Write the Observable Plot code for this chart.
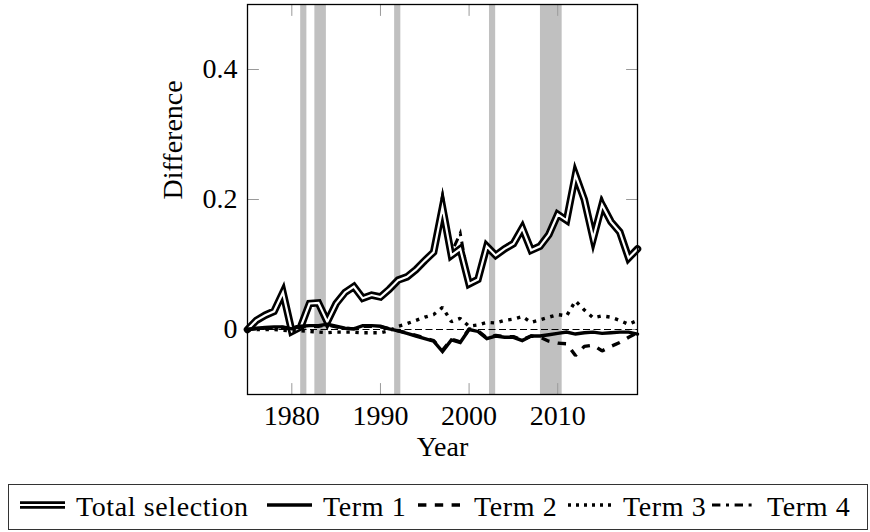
<!DOCTYPE html>
<html><head><meta charset="utf-8">
<script src="https://cdn.jsdelivr.net/npm/d3@7"></script>
<script src="https://cdn.jsdelivr.net/npm/@observablehq/plot@0.6"></script>
<style>
body{margin:0;background:#fff;width:870px;height:532px;position:relative;overflow:hidden;font-family:"Liberation Serif","Times New Roman",serif;}
#chart{position:absolute;left:0;top:0;}
#chart svg{font-family:"Liberation Serif","Times New Roman",serif !important;}
#chart svg text{font-family:"Liberation Serif","Times New Roman",serif !important;font-size:28px;}
#legend{position:absolute;left:8px;top:484px;width:860px;height:46px;box-sizing:border-box;border:1.2px solid #333;background:#fff;}
.sw{position:absolute;top:0;}
.lt{position:absolute;top:0;line-height:44px;font-size:28px;color:#000;white-space:nowrap;letter-spacing:0.6px;}
</style>
</head><body>
<div id="chart"></div>
<div id="legend"></div>
<script>
const years = [1975,1976,1977,1978,1979,1980,1981,1982,1983,1984,1985,1986,1987,1988,1989,1990,1991,1992,1993,1994,1995,1996,1997,1998,1999,2000,2001,2002,2003,2004,2005,2006,2007,2008,2009,2010,2011,2012,2013,2014,2015,2016,2017,2018,2019];
const totalSel = [0.000,0.014,0.022,0.028,0.057,-0.003,0.004,0.040,0.041,0.012,0.040,0.057,0.066,0.048,0.053,0.050,0.062,0.076,0.081,0.092,0.106,0.119,0.188,0.114,0.124,0.070,0.077,0.128,0.114,0.124,0.132,0.156,0.122,0.128,0.146,0.177,0.168,0.238,0.200,0.140,0.192,0.166,0.150,0.110,0.124];
const term1 = [0.000,0.002,0.003,0.004,0.004,0.001,0.005,0.006,0.006,0.008,0.005,0.002,0.001,0.006,0.006,0.005,0.001,-0.002,-0.006,-0.010,-0.014,-0.018,-0.034,-0.016,-0.020,0.000,-0.003,-0.014,-0.010,-0.012,-0.012,-0.017,-0.010,-0.010,-0.008,-0.006,-0.004,-0.007,-0.005,-0.004,-0.006,-0.005,-0.004,-0.004,-0.007];
const term2 = [0.000,0.001,0.002,0.003,0.003,0.000,0.004,0.005,0.005,0.007,0.004,0.002,0.001,0.005,0.005,0.004,0.001,-0.002,-0.005,-0.009,-0.013,-0.017,-0.032,-0.015,-0.019,0.001,-0.002,-0.013,-0.009,-0.011,-0.011,-0.016,-0.010,-0.012,-0.018,-0.021,-0.022,-0.040,-0.026,-0.024,-0.033,-0.026,-0.020,-0.012,-0.005];
const term3 = [0.000,0.000,0.000,0.000,-0.001,-0.002,-0.002,-0.003,-0.004,-0.005,-0.004,-0.004,-0.004,-0.005,-0.005,-0.005,-0.002,0.005,0.009,0.014,0.019,0.023,0.034,0.012,0.017,0.005,0.007,0.011,0.010,0.014,0.016,0.020,0.011,0.015,0.019,0.023,0.021,0.044,0.030,0.018,0.021,0.019,0.014,0.008,0.014];
const term4 = [0.000,0.014,0.022,0.029,0.059,-0.002,0.004,0.041,0.042,0.012,0.041,0.058,0.067,0.049,0.054,0.051,0.063,0.078,0.084,0.096,0.110,0.123,0.205,0.118,0.148,0.072,0.079,0.130,0.116,0.127,0.136,0.160,0.124,0.130,0.149,0.180,0.171,0.245,0.203,0.142,0.200,0.169,0.153,0.112,0.128];
const recessions = [[1981.0,1981.7],[1982.6,1983.9],[1991.6,1992.3],[2002.3,2003.0],[2008.05,2010.5]];
const xTicks = [1980,1990,2000,2010];
const yTicks = [0,0.2,0.4];
const legendLabels = ["Total selection","Term 1","Term 2","Term 3","Term 4"];

const rows = years.map((y,i)=>({year:y,total:totalSel[i],t1:term1[i],t2:term2[i],t3:term3[i],t4:term4[i]}));
const bands = recessions.map(([a,b])=>({start:a,end:b}));

const tickShape = {draw(ctx,l){ctx.moveTo(0,0);ctx.lineTo(0,-l);}};
const tickStyle = {length:11, anchor:"start", shape:tickShape, stroke:"#9a9a9a", strokeWidth:1};

const chart = Plot.plot({
  width:870, height:480,
  marginTop:4, marginBottom:86, marginLeft:247, marginRight:233,
  x:{domain:[1975,2019]},
  y:{domain:[-0.1,0.5]},
  style:{fontFamily:"'Liberation Serif', serif", fontSize:"28px", background:"white", color:"black"},
  marks:[
    Plot.rect(bands,{x1:"start",x2:"end",fill:"#c0c0c0"}),
    Plot.vector(xTicks,{x:d=>d,frameAnchor:"bottom",rotate:0,...tickStyle}),
    Plot.vector(xTicks,{x:d=>d,frameAnchor:"top",rotate:180,...tickStyle}),
    Plot.vector(yTicks,{y:d=>d,frameAnchor:"left",rotate:90,...tickStyle}),
    Plot.vector(yTicks,{y:d=>d,frameAnchor:"right",rotate:-90,...tickStyle}),
    Plot.ruleY([0],{stroke:"black",strokeWidth:1,strokeDasharray:"7,3.5"}),
    Plot.line(rows,{x:"year",y:"t4",stroke:"black",strokeWidth:3,strokeDasharray:"8.4,5.6,3,5.6",strokeLinecap:"butt",strokeLinejoin:"miter",strokeMiterlimit:10}),
    Plot.line(rows,{x:"year",y:"total",stroke:"black",strokeWidth:7.5,strokeLinejoin:"miter",strokeMiterlimit:10}),
    Plot.line(rows,{x:"year",y:"total",stroke:"white",strokeWidth:2.2,strokeLinejoin:"miter",strokeMiterlimit:10}),
    Plot.line(rows,{x:"year",y:"t1",stroke:"black",strokeWidth:3.4,strokeLinejoin:"miter",strokeMiterlimit:10}),
    Plot.line(rows,{x:"year",y:"t2",stroke:"black",strokeWidth:3.4,strokeDasharray:"8.4,8.4",strokeLinecap:"butt",strokeLinejoin:"miter"}),
    Plot.line(rows,{x:"year",y:"t3",stroke:"black",strokeWidth:3.4,strokeDasharray:"3.4,5.6",strokeLinecap:"butt",strokeLinejoin:"miter"}),
    Plot.axisX(xTicks,{tickSize:0,tickPadding:11,tickFormat:d=>String(d),fontSize:28,label:null}),
    Plot.axisY(yTicks,{tickSize:0,tickPadding:10,tickFormat:d=>d===0?"0":d.toFixed(1),fontSize:28,label:null}),
    Plot.text(["Year"],{frameAnchor:"bottom",dy:61,fontSize:28}),
    Plot.text(["Difference"],{frameAnchor:"left",dx:-74,rotate:-90,fontSize:28}),
    Plot.frame({stroke:"black",strokeWidth:1.3})
  ]
});
document.getElementById("chart").appendChild(chart);

// legend
const legend = document.getElementById("legend");
const swX = [20,267,418,568,712];
const txX = [76,323,474,623,767];
const swStyles = [
  [{w:7.5,c:"black",d:null},{w:2.2,c:"white",d:null}],
  [{w:3.4,c:"black",d:null}],
  [{w:3.4,c:"black",d:"8.4,8.4"}],
  [{w:3.4,c:"black",d:"3,5"}],
  [{w:3,c:"black",d:"8.4,5.6,3,5.6"}]
];
legendLabels.forEach((lab,i)=>{
  const svg = d3.create("svg").attr("class","sw").attr("width",46).attr("height",44)
    .style("left",(swX[i]-9)+"px");
  swStyles[i].forEach(s=>{
    const ln = svg.append("line").attr("x1",0).attr("x2",45).attr("y1",20).attr("y2",20)
      .attr("stroke",s.c).attr("stroke-width",s.w);
    if(s.d) ln.attr("stroke-dasharray",s.d);
  });
  legend.appendChild(svg.node());
  const t = document.createElement("div");
  t.className="lt"; t.textContent=lab; t.style.left=(txX[i]-9)+"px";
  legend.appendChild(t);
});
</script>
</body></html>
